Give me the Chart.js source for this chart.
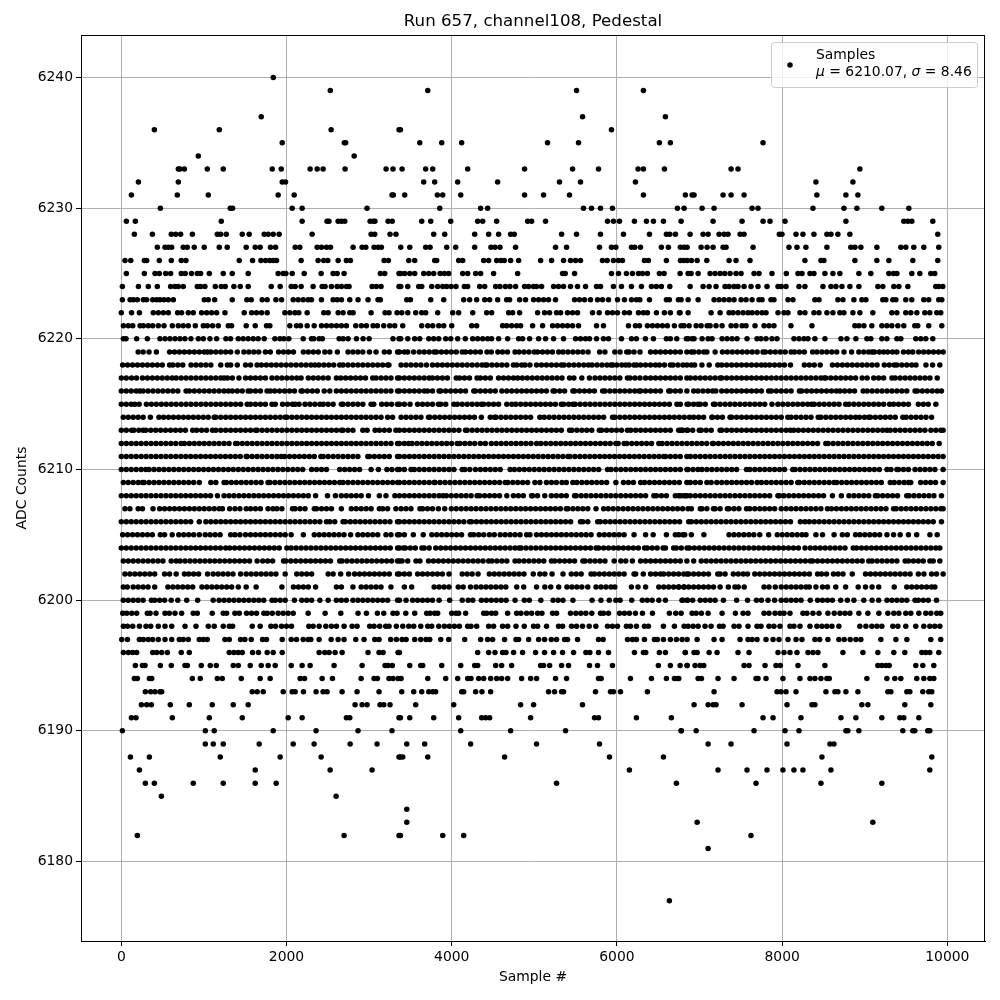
<!DOCTYPE html>
<html lang="en">
<head>
  <meta charset="UTF-8">
  <title>Run 657, channel108, Pedestal</title>
  <script src="https://cdn.jsdelivr.net/npm/chart.js"></script>
  <style>
    body { margin: 0; background: #fff; }
    canvas { display: block; }
  </style>
</head>
<body>
  <canvas id="adcChart" width="1000" height="1000"></canvas>

  <script>
    // sample numbers, one array per ADC level
    // (inside the solid rows single samples can't be told apart, those are estimates)
    const s6240 = [1840];
    const s6239 = [2530,3710,5511,6321];
    const s6237 = [1694,5584,6587];
    const s6236 = [400,1186,2540,3362,3379,5934];
    const s6235 = [1948,2700,2716,3613,3879,4120,5160,5535,6514,6647,7769];
    const s6234 = [932,2819];
    const s6233 = [690,710,763,1041,1234,1827,1936,2286,2371,2443,2709,3205,3289,3399,3685,3770,4193,4882,5463,5777,6256,6321,6575,7382,7466,8941];
    const s6232 = [207,690,1948,1988,3661,3794,4072,4556,5305,5559,6224,8409,8857];
    const s6231 = [122,678,1053,1899,2093,3277,3293,3431,3826,3891,4109,4882,5112,5426,6321,6829,6910,6934,7285,7382,7539,8421,8772,8917];
    const s6230 = [473,1319,1347,2069,2189,2975,3855,4350,4435,5595,5692,5801,5946,6732,6813,7031,7176,7636,7708,8373,8748,8905,9207,9534];
    const s6229 = [61,170,1210,2189,2490,2514,2625,2665,2705,3012,3050,3070,3230,3280,3637,3746,3988,4314,4375,4544,4919,4967,5136,5886,5958,6031,6212,6357,6442,6563,6777,7164,7515,7769,7853,8035,8772,9473,9522,9570,9824];
    const s6228 = [158,376,605,658,718,860,1162,1202,1270,1464,1548,1730,1778,1839,1911,2310,3024,3068,3253,3325,3782,3915,4278,4447,4568,4713,4757,5330,5511,5801,6079,6394,6599,6640,6708,6886,7043,7104,7237,7297,7345,7491,7539,7966,7998,8168,8252,8385,8542,8591,8675,8820,9884];
    const s6227 = [436,529,569,609,750,798,883,1004,1186,1282,1512,1621,1681,1806,1867,2105,2161,2371,2423,2484,2532,2806,2915,2960,3060,3108,3148,3383,3492,3685,3738,3939,4048,4278,4475,4524,4584,4773,5257,5390,5789,5934,5987,6176,6216,6285,6538,6623,6768,6813,6850,7019,7092,7164,7285,7321,7648,8083,8180,8288,8542,8832,8881,8953,9147,9437,9497,9594,9715,9896];
    const s6226 = [45,114,279,307,460,605,726,782,1428,1589,1690,1746,1798,1839,1879,2177,2383,2451,2500,2625,2725,2774,3181,3233,3480,3552,3794,3818,4084,4133,4387,4447,4544,4596,4636,4713,4810,5076,5209,5354,5438,5499,5559,5825,5882,5958,6019,6067,6333,6381,6599,6769,6809,6850,6902,6971,7088,7358,7442,7611,8276,8470,8506,8881,9147,9292,9582,9884];
    const s6225 = [61,279,408,460,537,597,726,774,850,920,960,1065,1234,1343,1536,1899,1960,1992,2069,2214,2419,2564,2613,2697,3136,3189,3362,3383,3431,3492,3552,3661,3722,3782,3859,3911,3963,4133,4193,4290,4350,4507,4798,5342,5374,5487,5934,6019,6115,6188,6261,6309,6369,6514,6571,6765,6862,6898,6983,7128,7188,7249,7305,7370,7442,7503,7660,7720,7877,8051,8192,8240,8337,8385,8518,8615,8699,8929,9074,9292,9348,9389,9570,9667,9800,9848];
    const s6224 = [13,207,327,436,597,650,690,750,920,960,1012,1138,1210,1258,1363,1440,1536,1815,1923,2057,2105,2177,2322,2431,2467,2544,2613,2665,2725,2757,3036,3088,3144,3362,3383,3468,3601,3637,3758,3830,3891,3939,3992,4052,4153,4193,4338,4399,4532,4584,4649,4705,4773,4882,4931,4991,5027,5088,5233,5293,5354,5438,5523,5620,5753,5801,5958,6055,6176,6297,6418,6478,6538,6640,6886,7043,7116,7200,7309,7358,7418,7466,7539,7623,7708,7817,7950,7990,8047,8204,8276,8494,8591,8651,8724,8820,8929,9159,9219,9352,9413,9522,9860,9896,9945];
    const s6223 = [13,106,146,194,267,307,380,428,468,517,569,630,1004,1053,1130,1343,1520,1573,1706,1766,1871,1940,2081,2141,2202,2262,2302,2423,2564,2613,2665,2766,2866,2987,3108,3136,3456,3500,3746,3903,4145,4217,4302,4399,4459,4556,4665,4701,4822,4894,4991,5052,5112,5172,5257,5487,5547,5608,5680,5765,5825,5898,6007,6091,6176,6236,6277,6394,6599,6635,6744,6777,6862,6983,7176,7237,7297,7358,7418,7503,7563,7636,7720,7757,7865,7901,8071,8131,8397,8446,8675,8736,8869,8965,9014,9219,9256,9340,9377,9497,9570,9715,9775,9896,9933];
    const s6222 = [0,124,219,387,448,509,569,682,730,811,871,972,1033,1093,1154,1255,1488,1577,1637,1698,1766,1980,2040,2101,2149,2250,2451,2504,2625,2685,2766,2806,3024,3193,3241,3338,3395,3468,3564,3637,3685,3830,4012,4084,4254,4423,4483,4689,4737,4822,5040,5124,5185,5269,5318,5402,5463,5523,5704,5785,5886,5946,6007,6091,6151,6261,6321,6369,6478,6575,6647,6756,6765,6862,7140,7249,7358,7406,7466,7527,7587,7636,7696,7757,7805,7950,8023,8071,8216,8276,8385,8446,8542,8615,8699,8748,8857,8941,9098,9328,9389,9497,9558,9631,9727,9788,9872,9920];
    const s6221 = [25,85,138,227,267,327,380,448,517,618,690,750,811,896,993,1041,1105,1174,1295,1335,1512,1621,1758,1798,2040,2121,2169,2250,2335,2423,2484,2544,2605,2665,2725,2838,2906,2967,3048,3100,3177,3249,3310,3407,3637,3710,3770,3843,3903,4000,4242,4302,4616,4665,4725,4786,4834,4979,5100,5221,5281,5342,5402,5463,5535,5753,5837,6140,6224,6273,6369,6430,6490,6551,6611,6696,6777,6813,6874,6959,7019,7092,7128,7200,7273,7382,7442,7515,7563,7672,7781,7841,7901,8107,8361,8881,8929,8990,9086,9207,9268,9328,9401,9473,9606,9642,9775,9933];
    const s6220 = [25,57,186,315,468,529,589,650,710,770,843,932,993,1073,1154,1266,1323,1416,1476,1536,1597,1657,1730,1859,1920,1968,2028,2202,2302,2330,2395,2435,2637,2685,2746,2846,2927,3000,3289,3362,3383,3468,3552,3613,3722,3782,3843,3927,3988,4072,4165,4254,4314,4375,4435,4483,4568,4677,4810,4858,4943,5052,5136,5233,5354,5499,5559,5620,5668,5753,5837,5898,6055,6176,6236,6345,6442,6599,6647,6724,6841,6862,6910,6934,7031,7104,7152,7273,7333,7394,7454,7575,7696,7744,7805,7877,7938,8143,8204,8264,8313,8397,8518,8712,8784,8893,9026,9074,9207,9268,9389,9437,9618,9679,9739,9824];

    const s6219 = [204,264,336,424,584,644,704,764,824,884,944,1004,1044,1084,1144,1204,1264,1324,1404,1484,1544,1604,1664,1744,1804,1904,1964,2024,2084,2204,2264,2324,2384,2464,2524,2616,2744,2804,2864,2924,3004,3084,3184,3244,3344,3367,3427,3467,3539,3607,3667,3727,3787,3815,3875,3935,3995,4055,4127,4167,4227,4287,4347,4427,4479,4559,4615,4675,4767,4815,4875,4935,4999,5039,5099,5159,5219,5295,5347,5407,5467,5527,5587,5651,5791,5855,5975,6039,6119,6147,6207,6279,6407,6467,6527,6587,6647,6707,6767,6847,6901,6933,6993,7053,7089,7189,7277,7337,7397,7457,7517,7577,7637,7697,7769,7797,7857,7917,7977,8037,8109,8149,8209,8269,8369,8421,8481,8541,8601,8661,8749,8841,8929,8989,9049,9089,9117,9177,9229,9277,9337,9389,9469,9529,9581,9653,9713,9773,9833,9893,9949];
    const s6218 = [16,76,136,196,256,316,376,436,496,584,624,684,744,844,904,964,1024,1084,1204,1284,1324,1404,1504,1564,1644,1696,1756,1816,1876,1936,1996,2056,2116,2176,2236,2296,2344,2392,2452,2512,2572,2644,2684,2744,2804,2864,2924,2984,3044,3104,3164,3224,3240,3387,3447,3507,3567,3627,3695,3767,3827,3887,3947,4007,4067,4127,4187,4247,4307,4367,4407,4427,4487,4547,4607,4667,4747,4787,4847,4887,4947,5027,5087,5147,5207,5267,5327,5359,5419,5479,5539,5599,5655,5699,5759,5819,5879,5927,5951,5999,6059,6107,6147,6207,6239,6287,6347,6407,6467,6515,6575,6647,6679,6739,6799,6847,6901,6941,7029,7117,7221,7269,7329,7389,7449,7509,7569,7629,7689,7749,7797,7849,7909,7969,8029,8101,8269,8329,8389,8461,8609,8669,8729,8789,8849,8909,8969,9029,9089,9149,9237,9297,9357,9389,9449,9509,9569,9621,9741,9821,9909];
    const s6217 = [0,60,124,184,256,316,376,436,496,556,616,664,724,784,844,904,964,1024,1084,1144,1204,1244,1284,1344,1424,1504,1564,1624,1684,1744,1824,1884,1944,2004,2064,2124,2176,2264,2324,2384,2444,2504,2604,2656,2716,2776,2836,2896,2956,3044,3084,3144,3204,3264,3344,3367,3427,3487,3547,3607,3667,3727,3767,3827,3887,3947,4055,4095,4155,4215,4307,4347,4407,4467,4567,4627,4687,4747,4799,4855,4915,4975,5035,5095,5155,5215,5275,5335,5427,5479,5575,5667,5735,5795,5855,5915,5975,6035,6127,6159,6219,6279,6347,6407,6467,6527,6587,6647,6707,6767,6847,6889,6949,7009,7069,7129,7189,7249,7269,7329,7389,7449,7509,7569,7629,7689,7749,7809,7869,7929,7989,8049,8109,8169,8229,8289,8349,8409,8469,8509,8529,8589,8649,8709,8769,8829,8889,8969,9029,9109,9169,9229,9329,9369,9429,9489,9549,9609,9669,9729,9789,9877];
    const s6216 = [0,60,120,180,224,264,324,384,444,504,564,624,684,784,824,884,944,1004,1064,1124,1184,1244,1296,1344,1404,1464,1536,1564,1624,1684,1764,1804,1856,1916,1976,2036,2096,2176,2192,2252,2312,2372,2456,2524,2604,2664,2724,2784,2844,2904,2964,3024,3084,3144,3204,3264,3344,3367,3427,3487,3547,3607,3667,3707,3767,3847,3867,3927,3987,4047,4107,4167,4267,4287,4347,4407,4467,4527,4607,4667,4727,4787,4847,4907,4967,5027,5087,5147,5227,5247,5307,5367,5467,5487,5547,5607,5667,5727,5827,5855,5915,5975,6035,6095,6155,6215,6267,6287,6347,6407,6467,6527,6627,6647,6707,6767,6847,6929,6981,7041,7101,7157,7197,7269,7329,7389,7449,7509,7569,7629,7689,7749,7837,7869,7929,7989,8049,8109,8209,8237,8297,8357,8417,8477,8537,8597,8657,8701,8757,8817,8877,8981,9029,9089,9149,9209,9269,9329,9389,9449,9509,9609,9637,9697,9757,9817,9877,9929];
    const s6215 = [0,60,120,164,216,304,364,424,484,544,604,664,724,784,844,904,964,1024,1084,1144,1204,1264,1324,1384,1444,1524,1564,1624,1684,1744,1824,1864,1952,2012,2072,2104,2152,2224,2284,2344,2404,2444,2504,2564,2664,2684,2744,2804,2864,2924,3024,3056,3152,3212,3272,3344,3367,3427,3495,3587,3647,3707,3767,3839,3867,3927,4027,4067,4127,4187,4247,4307,4359,4387,4447,4507,4567,4667,4727,4775,4835,4895,4955,5015,5075,5135,5195,5255,5327,5355,5415,5467,5495,5555,5615,5675,5735,5795,5855,5915,5975,6035,6095,6155,6215,6275,6335,6395,6455,6515,6575,6635,6727,6767,6849,6869,6929,6981,7009,7069,7169,7189,7249,7309,7369,7429,7489,7549,7609,7669,7729,7789,7877,7949,8009,8069,8129,8189,8249,8309,8357,8389,8449,8509,8569,8629,8689,8769,8809,8869,8929,8989,9049,9109,9169,9229,9301,9349,9409,9469,9529,9649,9709,9769,9861];
    const s6214 = [24,84,144,204,264,352,456,512,572,632,692,752,812,872,932,992,1052,1124,1144,1204,1264,1324,1384,1444,1504,1564,1624,1684,1744,1804,1864,1924,1984,2004,2064,2124,2184,2244,2304,2364,2424,2484,2544,2604,2664,2724,2784,2844,2904,2964,3024,3084,3144,3224,3284,3387,3447,3507,3567,3627,3719,3735,3795,3855,3915,3975,4035,4095,4155,4215,4275,4359,4467,4519,4535,4595,4655,4715,4775,4835,4895,4955,5067,5119,5179,5239,5299,5359,5419,5479,5539,5599,5659,5719,5779,5839,5947,5975,6035,6095,6155,6215,6275,6335,6395,6455,6515,6575,6635,6695,6755,6815,6877,6929,6989,7049,7149,7157,7217,7277,7369,7389,7449,7509,7569,7629,7689,7749,7809,7869,7929,7989,8069,8109,8169,8229,8289,8349,8437,8469,8529,8589,8649,8709,8769,8829,8889,8937,8997,9049,9069,9129,9189,9249,9309,9369,9461,9501,9561,9621,9681,9741,9809];
    const s6213 = [0,60,124,152,212,264,296,356,416,476,536,596,656,716,776,864,912,972,1032,1104,1144,1204,1264,1324,1384,1444,1504,1564,1624,1644,1704,1764,1824,1884,1944,2004,2064,2124,2184,2244,2304,2364,2424,2484,2544,2604,2664,2684,2744,2804,2924,2976,3072,3124,3184,3244,3324,3367,3427,3487,3547,3607,3667,3727,3787,3847,3907,3967,4027,4087,4167,4187,4247,4307,4367,4427,4487,4547,4607,4667,4727,4787,4847,4907,4967,5027,5087,5147,5207,5267,5327,5427,5455,5515,5575,5635,5695,5787,5815,5875,5935,5995,6055,6127,6167,6227,6287,6347,6407,6467,6527,6587,6647,6747,6787,6847,6769,6797,6857,6917,6997,7021,7081,7141,7249,7269,7329,7389,7449,7509,7569,7629,7689,7749,7809,7869,7929,7989,8049,8101,8141,8197,8257,8317,8377,8437,8497,8557,8617,8677,8737,8797,8857,8917,8977,9037,9097,9157,9217,9269,9309,9369,9429,9489,9549,9609,9669,9729,9801,9861,9921,9949];
    const s6212 = [0,60,120,180,240,300,360,420,480,540,600,660,724,764,824,884,944,1004,1064,1124,1184,1244,1304,1384,1404,1464,1524,1584,1644,1704,1764,1824,1884,1944,2004,2064,2124,2184,2244,2304,2364,2424,2484,2544,2604,2664,2724,2784,2844,2904,2964,3024,3084,3144,3204,3264,3344,3367,3427,3479,3519,3579,3639,3699,3759,3819,3879,3939,3999,4067,4099,4159,4219,4279,4347,4407,4479,4539,4599,4659,4719,4779,4839,4899,4959,5027,5079,5139,5199,5259,5319,5379,5439,5499,5559,5619,5679,5739,5799,5859,5919,5987,6015,6087,6119,6179,6239,6299,6359,6419,6507,6547,6607,6667,6727,6787,6847,6907,6967,7027,7087,7157,7169,7229,7289,7349,7409,7469,7529,7589,7649,7709,7769,7829,7889,7949,8009,8069,8129,8189,8249,8309,8369,8429,8529,8557,8617,8677,8737,8797,8857,8917,8977,9037,9097,9157,9217,9277,9337,9397,9457,9517,9577,9637,9697,9757,9817,9901];
    const s6211 = [0,60,120,180,240,300,360,420,480,540,600,660,720,780,840,900,960,1020,1080,1140,1200,1260,1320,1380,1440,1512,1524,1584,1644,1704,1764,1824,1884,1936,1976,2036,2096,2156,2216,2276,2336,2416,2444,2504,2564,2624,2684,2744,2804,2864,2984,3004,3064,3124,3184,3244,3344,3367,3427,3487,3547,3607,3667,3727,3787,3847,3907,3967,4027,4087,4147,4207,4267,4327,4387,4447,4507,4567,4627,4687,4747,4807,4867,4927,4987,5047,5107,5167,5227,5287,5347,5407,5431,5491,5551,5611,5671,5731,5791,5851,5911,5971,6031,6091,6151,6211,6271,6331,6391,6451,6511,6567,6587,6647,6707,6767,6847,6889,6949,7009,7069,7129,7189,7249,7309,7369,7429,7489,7549,7609,7669,7729,7789,7849,7909,7969,8029,8089,8149,8209,8269,8329,8389,8449,8509,8569,8629,8689,8749,8809,8869,8929,8989,9049,9109,9169,9229,9289,9349,9409,9469,9529,9589,9649,9709,9769,9829,9889,9949];
    const s6210 = [0,60,120,180,240,296,336,396,456,516,576,636,696,756,816,876,936,996,1056,1116,1176,1236,1296,1356,1416,1476,1536,1596,1656,1716,1776,1836,1896,1956,2016,2076,2136,2196,2304,2364,2424,2484,2644,2704,2764,2824,2884,3024,3112,3216,3276,3344,3367,3427,3507,3547,3607,3667,3727,3787,3847,3907,3967,4027,4127,4159,4219,4287,4347,4407,4467,4527,4587,4707,4759,4819,4879,4939,4999,5059,5119,5179,5239,5299,5359,5419,5479,5539,5599,5659,5719,5779,5887,5927,5987,6047,6107,6167,6227,6287,6347,6407,6467,6527,6587,6647,6707,6767,6847,6861,6921,6981,7029,7089,7149,7209,7269,7329,7389,7449,7569,7609,7669,7729,7789,7849,7909,7969,8029,8129,8157,8217,8277,8337,8397,8457,8517,8577,8637,8697,8757,8817,8877,8937,8997,9057,9117,9177,9269,9317,9389,9409,9469,9529,9609,9669,9729,9789,9849,9949];
    const s6209 = [24,84,144,204,256,276,336,396,456,516,576,636,696,756,816,876,944,1084,1144,1244,1272,1332,1392,1452,1512,1572,1632,1692,1776,1800,1860,1920,1980,2040,2100,2160,2220,2280,2340,2400,2460,2520,2580,2644,2684,2744,2804,2864,2924,2984,3044,3104,3164,3224,3284,3344,3367,3427,3487,3547,3607,3667,3727,3787,3799,3859,3919,3979,4039,4099,4159,4219,4279,4339,4399,4459,4519,4579,4647,4679,4739,4799,4859,4919,5007,5067,5147,5207,5267,5335,5387,5467,5515,5575,5635,5695,5755,5815,5875,5987,6079,6139,6199,6287,6335,6395,6455,6515,6575,6635,6695,6755,6847,6889,6949,7009,7089,7141,7209,7269,7329,7389,7449,7509,7569,7629,7697,7749,7809,7869,7929,7989,8049,8109,8189,8209,8269,8329,8389,8449,8509,8569,8629,8661,8721,8781,8841,8901,8961,9021,9081,9141,9201,9309,9357,9417,9477,9529,9557,9677,9737,9797,9857,9949];
    const s6208 = [0,60,120,180,240,300,360,420,480,540,600,660,720,780,840,900,960,1020,1080,1164,1244,1304,1364,1424,1484,1544,1604,1664,1724,1784,1844,1904,1964,2024,2084,2144,2204,2264,2352,2496,2592,2664,2724,2784,2844,2904,2992,3124,3204,3312,3367,3427,3487,3547,3607,3667,3727,3787,3847,3895,3935,3995,4055,4115,4175,4235,4307,4339,4399,4459,4519,4579,4667,4747,4807,4867,4967,4979,5039,5127,5207,5267,5327,5387,5487,5507,5567,5627,5687,5747,5807,5867,5927,5987,6047,6107,6167,6227,6287,6347,6447,6479,6539,6599,6707,6747,6807,6847,6769,6829,6889,6949,7009,7069,7129,7189,7249,7309,7369,7429,7489,7549,7609,7669,7729,7789,7849,7949,7969,8021,8081,8141,8201,8261,8321,8381,8441,8501,8609,8717,8809,8869,8929,8989,9049,9129,9157,9217,9277,9337,9397,9509,9537,9597,9657,9717,9777,9837,9929];
    const s6207 = [44,104,204,256,384,464,524,584,644,704,764,824,884,944,1004,1064,1124,1184,1224,1312,1376,1436,1512,1564,1624,1684,1776,1836,1884,1944,2072,2104,2164,2224,2336,2364,2424,2484,2544,2664,2784,2844,2904,2964,3024,3124,3164,3224,3324,3387,3447,3507,3615,3647,3707,3767,3839,3915,3995,4055,4115,4175,4235,4295,4355,4415,4475,4535,4595,4655,4715,4775,4835,4895,4955,5015,5075,5135,5195,5255,5315,5387,5407,5467,5527,5587,5647,5747,5839,5895,5955,6015,6075,6135,6195,6255,6315,6375,6435,6495,6555,6615,6675,6735,6795,6861,6901,7009,7029,7089,7169,7189,7249,7337,7357,7417,7477,7569,7609,7669,7729,7789,7849,7909,7989,8049,8109,8169,8229,8289,8349,8409,8469,8549,8597,8657,8717,8777,8837,8897,8957,9017,9077,9137,9197,9257,9349,9381,9441,9501,9561,9621,9681,9741,9801,9861,9921,9949];
    const s6206 = [0,60,120,180,240,300,360,420,480,540,600,660,720,780,840,944,1024,1084,1144,1204,1264,1324,1384,1444,1504,1564,1624,1684,1744,1804,1864,1924,1984,2044,2104,2164,2224,2284,2344,2404,2484,2524,2584,2684,2712,2772,2832,2892,2952,3012,3072,3132,3192,3252,3344,3367,3427,3487,3547,3607,3667,3727,3787,3847,3907,3967,4027,4087,4147,4215,4239,4299,4359,4419,4479,4539,4599,4659,4719,4779,4839,4899,4959,5019,5079,5139,5199,5259,5319,5379,5439,5559,5587,5647,5767,5799,5859,5919,5979,6039,6099,6159,6219,6279,6339,6399,6459,6519,6579,6639,6699,6759,6869,6901,6961,7021,7081,7141,7201,7261,7321,7381,7441,7501,7561,7621,7681,7741,7801,7861,7921,7981,8041,8101,8221,8277,8329,8389,8449,8509,8569,8629,8689,8749,8809,8869,8929,8989,9049,9109,9169,9229,9289,9349,9409,9469,9529,9589,9649,9709,9769,9829,9929];
    const s6205 = [16,76,136,196,256,316,376,472,524,616,696,756,816,876,944,1016,1076,1136,1196,1324,1376,1436,1504,1564,1624,1684,1744,1804,1864,1924,1984,2056,2204,2336,2396,2456,2516,2576,2636,2696,2776,2864,2924,2984,3044,3104,3204,3264,3344,3367,3427,3535,3655,3759,3819,3879,3939,3999,4059,4119,4227,4267,4327,4387,4455,4515,4587,4647,4707,4767,4827,4907,4947,5027,5087,5147,5207,5267,5327,5387,5447,5507,5567,5627,5687,5787,5847,5907,5967,6027,6087,6207,6347,6439,6599,6707,6799,6749,6821,6901,7053,7357,7417,7477,7537,7597,7657,7729,7837,7941,8001,8061,8121,8181,8241,8289,8409,8489,8629,8729,8789,8889,8941,9001,9061,9121,9181,9269,9349,9429,9529,9629,9789,9877];
    const s6204 = [0,60,120,180,240,300,360,420,480,540,600,660,720,780,840,900,960,1020,1080,1140,1200,1264,1312,1372,1432,1492,1552,1612,1672,1732,1792,1852,1912,2004,2056,2116,2176,2236,2296,2356,2416,2476,2536,2596,2656,2716,2776,2836,2896,2956,3016,3076,3136,3196,3256,3344,3367,3415,3439,3499,3559,3639,3667,3727,3807,3867,3927,3987,4047,4107,4167,4227,4287,4347,4407,4467,4527,4587,4647,4707,4767,4815,4839,4899,4959,5019,5079,5139,5199,5259,5319,5379,5439,5499,5559,5619,5679,5747,5779,5839,5899,5959,6019,6079,6139,6199,6259,6335,6367,6427,6487,6559,6587,6687,6719,6779,6849,6877,6937,6997,7057,7117,7177,7237,7297,7357,7417,7477,7537,7597,7657,7717,7777,7837,7897,7957,8017,8077,8137,8197,8277,8341,8401,8461,8521,8581,8641,8701,8761,8861,8901,8961,9021,9081,9141,9201,9261,9321,9381,9441,9501,9561,9621,9681,9741,9801,9861,9909];
    const s6203 = [24,84,144,204,264,324,384,444,504,604,664,712,772,832,892,952,1012,1072,1132,1192,1252,1312,1372,1432,1492,1552,1644,1712,1772,1832,1964,1992,2052,2112,2172,2232,2292,2352,2412,2472,2532,2644,2672,2732,2792,2852,2912,2972,3032,3092,3152,3212,3272,3344,3367,3399,3467,3567,3615,3719,3779,3839,3899,3959,4019,4079,4139,4199,4259,4319,4379,4447,4487,4547,4607,4667,4767,4815,4875,4935,4995,5055,5115,5207,5247,5307,5367,5427,5487,5587,5615,5675,5735,5795,5855,5967,6047,6107,6187,6287,6347,6407,6467,6527,6587,6647,6707,6767,6847,6929,7021,7081,7141,7201,7261,7321,7381,7441,7501,7561,7621,7681,7741,7801,7861,7921,7981,8041,8101,8161,8221,8281,8341,8369,8429,8489,8549,8609,8669,8729,8789,8849,8909,8969,9049,9089,9149,9209,9269,9329,9389,9489,9529,9589,9649,9709,9789,9829,9909];
    const s6202 = [44,104,164,224,284,344,404,524,584,664,764,816,876,936,1044,1112,1172,1232,1292,1352,1444,1512,1572,1632,1692,1752,1812,1872,1984,2124,2184,2244,2304,2504,2564,2656,2752,2824,2884,2944,3004,3064,3124,3184,3244,3344,3367,3427,3487,3587,3647,3707,3767,3827,3887,3967,4127,4187,4247,4319,4455,4515,4575,4635,4695,4755,4815,4875,4987,5067,5127,5215,5347,5447,5507,5567,5687,5727,5787,5847,5907,5967,6027,6087,6207,6227,6319,6407,6467,6527,6567,6627,6687,6747,6847,6809,6869,6929,6989,7049,7109,7221,7249,7309,7409,7469,7529,7581,7669,7729,7789,7849,7909,7969,8029,8089,8149,8209,8269,8329,8429,8477,8537,8621,8677,8737,8849,9009,9069,9129,9189,9249,9309,9369,9429,9489,9549,9649,9717,9809,9869,9949];
    const s6201 = [24,72,144,204,264,324,404,564,624,684,744,804,864,976,1036,1096,1156,1216,1276,1336,1416,1512,1632,1944,2084,2144,2204,2264,2352,2604,2664,2804,2904,2964,3024,3084,3144,3264,3427,3515,3787,3847,3907,3967,4079,4139,4227,4295,4355,4415,4475,4535,4595,4655,4787,4871,5027,5127,5199,5295,5395,5455,5515,5575,5647,5747,5807,5867,5927,5975,6175,6255,6347,6507,6567,6627,6687,6747,6815,6749,6809,6869,6929,6989,7049,7109,7169,7249,7349,7429,7469,7541,7781,7841,7917,7989,8049,8109,8169,8229,8289,8329,8409,8489,8549,8649,8769,8921,9009,9089,9169,9357,9509,9569,9629,9689,9749,9809,9849];
    const s6200 = [24,84,144,204,264,364,404,464,524,604,684,792,924,1112,1184,1244,1304,1364,1424,1484,1544,1604,1664,1724,1824,1864,1924,1984,2096,2184,2244,2304,2404,2504,2604,2664,2724,2804,2864,2924,2984,3044,3104,3164,3224,3344,3367,3447,3527,3587,3647,3707,3767,3847,3975,4127,4199,4255,4359,4419,4479,4539,4599,4659,4767,4879,4939,5079,5227,5287,5347,5467,5699,5807,5907,5987,6039,6179,6307,6367,6427,6507,6587,6787,6847,6797,6857,6917,7009,7069,7129,7189,7289,7449,7581,7689,7749,7829,7909,7989,8049,8109,8169,8229,8341,8429,8489,8549,8609,8709,8789,8869,8989,9089,9169,9269,9329,9389,9449,9509,9609,9649,9709,9769,9869];

    const s6199 = [17,65,126,186,315,348,420,529,581,650,730,871,920,1101,1234,1275,1375,1428,1516,1577,1637,1726,1766,1827,1899,1960,2020,2081,2262,2467,2657,2866,2967,3100,3177,3289,3338,3444,3552,3697,3738,3794,3830,4000,4052,4084,4169,4387,4423,4483,4532,4677,4786,4838,4906,4967,5040,5092,5221,5269,5438,5503,5563,5624,5696,5801,5837,5898,6031,6091,6151,6224,6309,6430,6635,6712,6777,6910,6959,7023,7104,7273,7434,7527,7587,7781,7841,7914,7974,8023,8095,8252,8300,8373,8446,8554,8631,8700,8760,8820,8929,9038,9171,9280,9352,9413,9497,9558,9655,9739,9800,9872,9920];
    const s6198 = [25,74,138,219,299,356,448,529,610,771,904,1053,1125,1234,1307,1347,1585,1681,1811,1867,1940,2000,2060,2270,2322,2395,2476,2544,2605,2697,2794,2854,3007,3060,3128,3201,3241,3330,3407,3480,3540,3625,3710,3758,3843,3911,3971,4032,4092,4193,4233,4302,4447,4507,4616,4677,4778,4878,4991,5040,5148,5293,5342,5450,5511,5583,5664,5745,5886,5946,6007,6115,6164,6236,6333,6381,6563,6696,6813,6862,6922,6983,7067,7140,7241,7285,7418,7478,7587,7696,7744,7841,7901,7974,8095,8143,8216,8337,8421,8482,8542,8603,8687,8941,9014,9086,9147,9207,9340,9401,9497,9618,9715,9788,9848,9909];
    const s6197 = [5,74,219,267,327,380,448,529,610,702,750,811,944,993,1041,1254,1307,1444,1496,1573,1710,1758,1948,2057,2121,2202,2262,2294,2395,2540,2625,2697,2838,2939,3068,3120,3261,3330,3399,3448,3552,3625,3689,3734,3867,3963,4157,4350,4435,4495,4640,4778,4810,4931,5052,5124,5205,5269,5366,5402,5523,5777,5833,6128,6188,6236,6333,6454,6490,6563,6647,6720,6789,6850,6971,7176,7273,7491,7587,7636,7696,7805,7890,7962,8071,8168,8240,8397,8454,8554,8687,8752,8824,8893,8953,9195,9377,9510,9800,9920];
    const s6196 = [25,86,138,186,380,428,489,557,726,823,1307,1363,1416,1464,1589,1661,1766,1839,1948,2395,2463,2516,2588,2673,2987,3120,3169,3350,3367,4314,4447,4524,4616,4657,4749,4858,5015,5124,5233,5342,5475,5624,5672,5777,5898,6212,6321,6349,6514,6587,6829,6826,6934,6971,7116,7212,7466,7599,7950,8023,8095,8180,8313,8373,8433,8736,8978,9159,9352,9485,9691,9739,9788,9896];
    const s6195 = [170,255,287,473,605,771,799,968,1077,1150,1355,1416,1561,1694,1778,1863,2057,2189,2286,2576,2915,3193,3229,3281,3492,3625,3649,3879,4109,4278,4314,4532,4604,4725,5076,5112,5185,5330,5414,5668,5765,5946,6502,6647,6765,6849,6850,6946,7007,7051,7539,7599,7793,7926,7978,8192,8518,9159,9207,9256,9296,9618,9703,9836];
    const s6194 = [158,194,340,368,860,956,1162,1222,1452,1681,1802,2165,2218,2431,2556,2903,3060,3100,3241,3289,3350,3387,3710,3927,4072,4193,4233,4326,4387,4471,4544,4604,4677,4846,4955,5027,5257,5390,5777,5809,6164,6418,6599,6696,6732,6749,6983,7023,7224,7418,7684,7708,7805,8010,8216,8337,8397,8470,8542,8571,9026,9268,9364,9437,9630,9715,9788,9836];
    const s6193 = [291,356,408,468,489,1585,1645,1718,1960,2068,2105,2205,2358,2443,2491,2673,2854,3120,3395,3540,3637,3722,3770,3806,4121,4145,4290,4366,4471,5172,5245,5330,5354,5741,5922,5958,6043,6369,7176,7938,7986,8047,8168,8530,8639,8675,8772,8917,9280,9316,9510,9546,9703,9775,9812];
    const s6192 = [243,307,364,593,823,1101,1355,1536,2830,2915,2975,3132,3177,3253,3564,4024,4834,4991,5583,6934,7104,7164,7200,7515,8059,8361,8397,8965,9038,9485,9800];
    const s6191 = [122,178,618,1065,1464,2020,2189,2725,2766,3362,3379,3492,3782,4084,4362,4411,4459,4955,5729,5777,6236,6659,7769,7890,8228,8712,8893,9207,9425,9473,9655];
    const s6190 = [13,1017,1125,1839,2358,2866,3277,4109,4713,5378,6780,6777,6959,7660,8035,8204,8772,8796,8929,9461,9582,9606,9763,9788];
    const s6189 = [1017,1113,1234,1669,2081,2334,2770,3096,3456,3673,4229,5027,5789,7104,7382,8059,8579,8627];
    const s6188 = [110,340,1198,1923,2419,3362,3379,3407,3710,4640,5910,6563,8482,9812];
    const s6187 = [219,1621,2528,3036,6151,7224,7575,7817,8010,8143,8252,8591,9788];
    const s6186 = [291,400,871,1234,1621,1875,5269,6720,7684,8470,9207];
    const s6185 = [485,2600];
    const s6184 = [3456];
    const s6183 = [3456,6971,9098];
    const s6182 = [194,2697,3362,3379,3891,4145,7623];
    const s6181 = [7104];
    const s6177 = [6635];

    const levels = [
      [6240,s6240],[6239,s6239],[6237,s6237],[6236,s6236],[6235,s6235],[6234,s6234],[6233,s6233],[6232,s6232],
      [6231,s6231],[6230,s6230],[6229,s6229],[6228,s6228],[6227,s6227],[6226,s6226],[6225,s6225],[6224,s6224],
      [6223,s6223],[6222,s6222],[6221,s6221],[6220,s6220],[6219,s6219],[6218,s6218],[6217,s6217],[6216,s6216],
      [6215,s6215],[6214,s6214],[6213,s6213],[6212,s6212],[6211,s6211],[6210,s6210],[6209,s6209],[6208,s6208],
      [6207,s6207],[6206,s6206],[6205,s6205],[6204,s6204],[6203,s6203],[6202,s6202],[6201,s6201],[6200,s6200],
      [6199,s6199],[6198,s6198],[6197,s6197],[6196,s6196],[6195,s6195],[6194,s6194],[6193,s6193],[6192,s6192],
      [6191,s6191],[6190,s6190],[6189,s6189],[6188,s6188],[6187,s6187],[6186,s6186],[6185,s6185],[6184,s6184],
      [6183,s6183],[6182,s6182],[6181,s6181],[6177,s6177]
    ];
    const xTicks = [0, 2000, 4000, 6000, 8000, 10000];
    const yTicks = [6180, 6190, 6200, 6210, 6220, 6230, 6240];

    const points = [];
    levels.forEach(([adc, samples]) => samples.forEach(s => points.push({x: s, y: adc})));

    const font = 'DejaVu Sans';

    // top/right spines and the two line legend (mu, sigma in italics)
    const framePlugin = {
      id: 'frame',
      afterDraw(chart) {
        const c = chart.ctx, a = chart.chartArea;
        c.save();
        c.strokeStyle = '#000';
        c.lineWidth = 1;
        c.strokeRect(a.left + 0.5, a.top + 0.5, a.right - a.left - 1, a.bottom - a.top);

        c.beginPath();
        c.roundRect(771.5, 42.5, 206, 45, 3);
        c.fillStyle = 'rgba(255,255,255,0.8)';
        c.fill();
        c.strokeStyle = '#ccc';
        c.stroke();

        c.fillStyle = '#000';
        c.beginPath();
        c.arc(790, 65, 2.75, 0, Math.PI * 2);
        c.fill();

        c.textBaseline = 'alphabetic';
        c.font = `13.9px "${font}"`;
        c.fillStyle = '#000';
        c.fillText('Samples', 816, 59);
        let x = 816;
        [['\u03bc', true], [' = 6210.07, ', false], ['\u03c3', true], [' = 8.46', false]].forEach(([t, it]) => {
          c.font = `${it ? 'italic ' : ''}13.9px "${font}"`;
          c.fillText(t, x, 76);
          x += c.measureText(t).width;
        });
        c.restore();
      }
    };

    new Chart(document.getElementById('adcChart').getContext('2d'), {
      type: 'scatter',
      data: {
        datasets: [{
          label: 'Samples',
          data: points,
          backgroundColor: '#000',
          borderWidth: 0,
          pointRadius: 2.75
        }]
      },
      options: {
        responsive: false,
        animation: false,
        layout: { padding: { right: 15 } },
        plugins: {
          legend: { display: false },
          tooltip: { enabled: false },
          title: {
            display: true,
            fullSize: false,
            text: 'Run 657, channel108, Pedestal',
            color: '#000',
            font: { family: font, size: 16.67, weight: 'normal' },
            padding: { top: 12, bottom: 3 }
          }
        },
        scales: {
          x: {
            type: 'linear',
            min: -488,
            max: 10456,
            afterBuildTicks: s => { s.ticks = xTicks.map(v => ({value: v})); },
            afterFit: s => { s.height = 59; },
            border: { color: '#000' },
            grid: { color: '#b0b0b0', tickColor: '#000', tickLength: 5 },
            ticks: { color: '#000', maxRotation: 0, font: { family: font, size: 13.9 }, callback: v => String(v) },
            title: { display: true, text: 'Sample #', color: '#000', font: { family: font, size: 13.9 }, padding: { top: 4, bottom: 14 } }
          },
          y: {
            min: 6173.92,
            max: 6243.25,
            afterBuildTicks: s => { s.ticks = yTicks.map(v => ({value: v})); },
            afterFit: s => { s.width = 81; },
            border: { color: '#000' },
            grid: { color: '#b0b0b0', tickColor: '#000', tickLength: 5 },
            ticks: { color: '#000', font: { family: font, size: 13.9 }, callback: v => String(v) },
            title: { display: true, text: 'ADC Counts', color: '#000', font: { family: font, size: 13.9 }, padding: { top: 14, bottom: 4 } }
          }
        }
      },
      plugins: [framePlugin]
    });
  </script>
</body>
</html>
